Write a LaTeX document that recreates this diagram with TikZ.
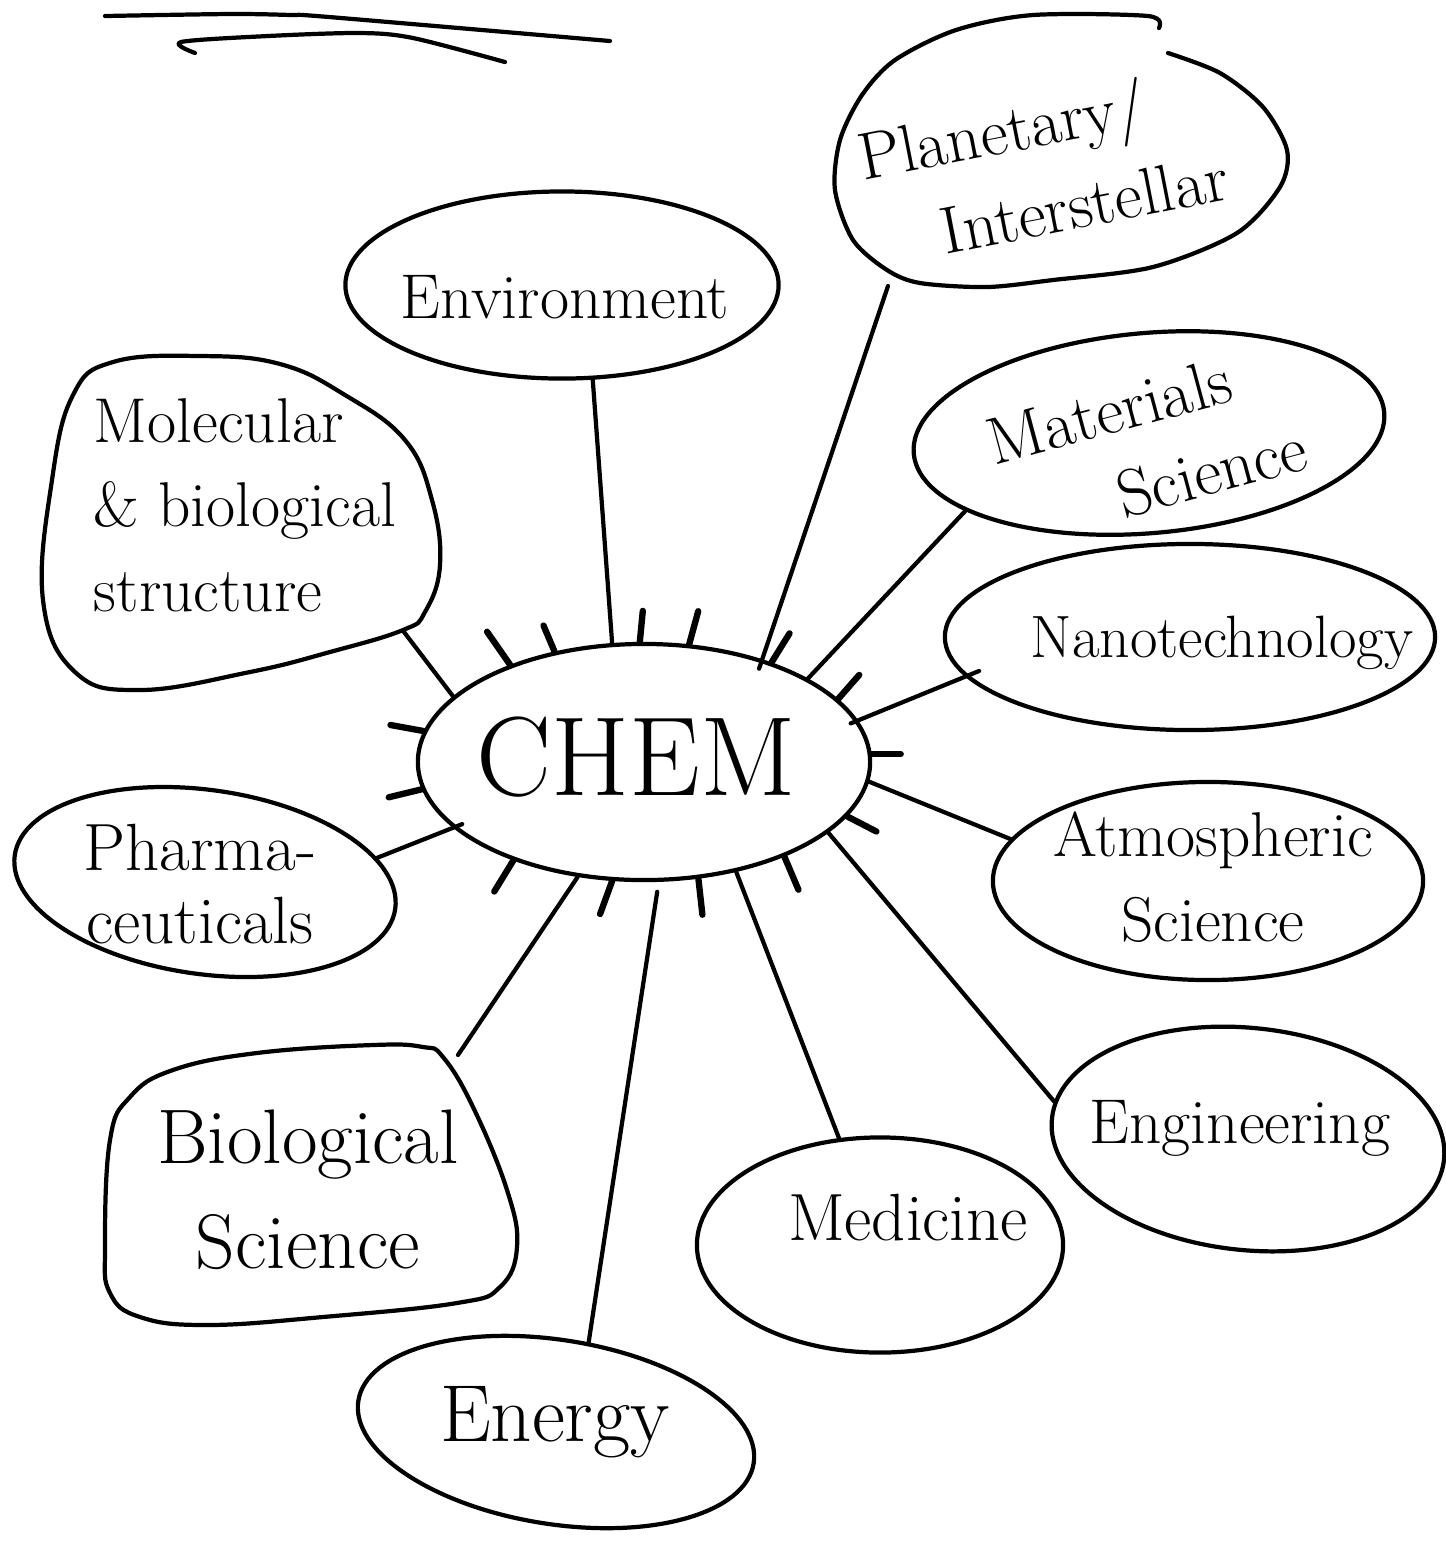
\documentclass[tikz,border=0pt]{standalone}
\usepackage{fontspec}
\usepackage{tikz}
\usetikzlibrary{shapes.geometric}

\begin{document}
\begin{tikzpicture}[x=0.01cm, y=-0.01cm,
    bubble/.style={ellipse, draw, line width=1.2pt, inner sep=0pt},
    outline/.style={line width=1.2pt, line join=round, line cap=round},
    link/.style={line width=1.2pt, line cap=round},
    ray/.style={line width=1.8pt, line cap=round},
    hand/.style={align=center, inner sep=0pt, font=\fontsize{18}{24}\selectfont}]
  \useasboundingbox (0,0) rectangle (1446,1556);

  % two strokes along the top edge
  \draw[outline] plot[smooth] coordinates {(105,16) (230,14) (291,15) (329,17) (610,41)};
  \draw[outline] plot[smooth] coordinates {(195,53) (181,42) (268,36) (360,33) (413,38) (505,62)};

  % the centre bubble and its little rays
  \node[bubble, minimum width=4.52cm, minimum height=2.36cm] (chem) at (644,762) {};
  \node[hand, font=\fontsize{32}{36}\selectfont] (chem-t) at (636,757) {CHEM};
  \foreach \a/\dx/\dy in {144/-23/-33, 129/-11/-26, 92/3/-31, 69/9/-33, 38/18/-29,
      18.5/21/-24, 2/29/0, -15/29/15, -34/14/33, -65/4/36, -105/-12/33,
      -143/-19/31, 172/-33/-6, -173/-33/8}
    \draw[ray] (chem.\a) -- ++(\dx,\dy);

  % topics
  \node[bubble, minimum width=4.33cm, minimum height=1.87cm] (env) at (562,285) {};
  \node[hand] (env-t) at (565,297) {Environment};

  \draw[outline] plot[smooth] coordinates {(1168,53) (1220,73) (1263,107) (1287,150)
      (1280,187) (1237,233) (1153,267) (1053,280) (987,287) (920,283) (887,270)
      (853,240) (835,190) (840,140) (862,95) (895,60) (956,30) (1033,15) (1148,16) (1159,28)};
  \coordinate (planet-foot) at (888,286);
  \node[hand, rotate=11, font=\fontsize{19}{25}\selectfont] (planet-t) at (1010,172) {Planetary/\\\hspace*{2em}Interstellar};

  \draw[outline] plot[smooth cycle, tension=0.7] coordinates {(43,600) (52,480) (73,395)
      (113,362) (200,356) (280,364) (345,395) (405,440) (432,500) (440,565) (425,612)
      (403,630) (330,652) (250,672) (140,690) (75,672)};
  \coordinate (mol-foot) at (404,632);
  \node[hand, align=left] (mol-t) at (245,505) {Molecular\\\& biological\\structure};

  \node[bubble, minimum width=4.72cm, minimum height=2cm, rotate=5] (mat) at (1149,433) {};
  \node[hand, rotate=15, font=\fontsize{19}{24}\selectfont] (mat-t) at (1120,452) {Materials\\\hspace*{2.5em}Science};

  \node[bubble, minimum width=4.9cm, minimum height=1.86cm] (nano) at (1190,637) {};
  \node[hand, font=\fontsize{17}{20}\selectfont] (nano-t) at (1222,643) {Nanotechnology};

  \node[bubble, minimum width=4.3cm, minimum height=1.98cm] (atmos) at (1208,881) {};
  \node[hand] (atmos-t) at (1213,877) {Atmospheric\\Science};

  \node[bubble, minimum width=3.94cm, minimum height=2.22cm, rotate=-6] (eng) at (1248,1139) {};
  \node[hand] (eng-t) at (1240,1128) {Engineering};

  \node[bubble, minimum width=3.66cm, minimum height=2.15cm] (med) at (880,1245) {};
  \node[hand, font=\fontsize{19}{24}\selectfont] (med-t) at (908,1218) {Medicine};

  \node[bubble, minimum width=4cm, minimum height=1.84cm, rotate=-9] (energy) at (556,1432) {};
  \node[hand, font=\fontsize{23}{28}\selectfont] (energy-t) at (555,1422) {Energy};

  \draw[outline] plot[smooth cycle, tension=0.7] coordinates {(105,1247) (110,1140)
      (130,1097) (173,1070) (257,1053) (373,1045) (423,1047) (443,1057) (473,1107)
      (507,1190) (517,1247) (500,1287) (457,1303) (323,1317) (207,1325) (140,1317) (110,1293)};
  \coordinate (bio-top) at (458,1055);
  \node[hand, font=\fontsize{22}{30}\selectfont] (bio-t) at (308,1190) {Biological\\Science};

  \node[bubble, minimum width=3.84cm, minimum height=1.84cm, rotate=-8] (pharma) at (205,882) {};
  \node[hand, font=\fontsize{19}{21}\selectfont] (pharma-t) at (200,884) {Pharma-\\ceuticals};

  % spokes
  \draw[link] (chem.105) -- (env.-72);
  \draw[link, shorten >=-0.1cm] (planet-foot) -- (chem.41);
  \draw[link] (mat.-162) -- (chem.27);
  \draw[link, shorten <=-0.15cm, shorten >=-0.08cm] (nano.-170) -- (chem.11);
  \draw[link] (atmos.168) -- (chem.-5);
  \draw[link] (eng.175) -- (chem.-21);
  \draw[link] (med.111) -- (chem.-50);
  \draw[link, shorten >=0.1cm] (energy.79) -- (chem.-83);
  \draw[link] (bio-top) -- (chem.-120);
  \draw[link, shorten >=-0.1cm] (pharma.16) -- (chem.-161);
  \draw[link] (mol-foot) -- (chem.161);
\end{tikzpicture}
\end{document}
